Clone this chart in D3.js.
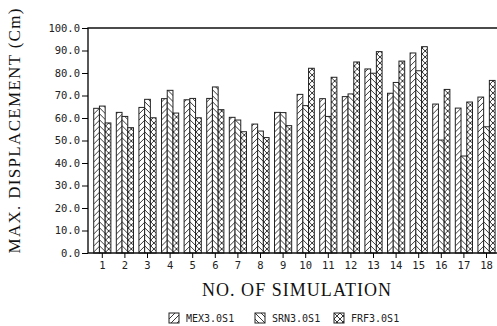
<!DOCTYPE html>
<html>
<head>
<meta charset="utf-8">
<script src="https://cdn.jsdelivr.net/npm/d3@7"></script>
<style>
  body { margin: 0; background: #fff; }
  svg { display: block; }
</style>
</head>
<body>
<svg id="chart" width="497" height="326"></svg>
<script>
// simulation numbers on the x axis
const simulations = ["1","2","3","4","5","6","7","8","9","10","11","12","13","14","15","16","17","18"]
const seriesNames = ["MEX3.0S1", "SRN3.0S1", "FRF3.0S1"]

// max displacement (cm)
const mex = [64.3, 62.5, 64.7, 68.6, 68.1, 68.7, 60.3, 57.3, 62.5, 70.5, 68.6, 69.5, 81.8, 71.0, 88.9, 66.2, 64.4, 69.3]
const srn = [65.3, 60.7, 68.3, 72.3, 68.7, 73.8, 59.1, 54.2, 62.4, 65.5, 60.7, 70.7, 79.9, 75.8, 81.0, 50.2, 43.1, 56.1]
const frf = [57.8, 55.7, 60.1, 62.2, 60.1, 63.7, 53.9, 51.3, 56.6, 82.1, 78.1, 84.9, 89.5, 85.3, 91.7, 72.7, 67.1, 76.7]

const yTicks = [0, 10, 20, 30, 40, 50, 60, 70, 80, 90, 100]

const plotLeft = 88, plotTop = 28, plotBottom = 253, plotRight = 497

const svg = d3.select("#chart")

// hatch patterns, one per series
const defs = svg.append("defs")
function hatch(id, paths) {
  const p = defs.append("pattern")
    .attr("id", id)
    .attr("patternUnits", "userSpaceOnUse")
    .attr("width", 6).attr("height", 6)
  p.append("rect").attr("width", 6).attr("height", 6).attr("fill", "#fff")
  paths.forEach(d => p.append("path").attr("d", d)
    .attr("stroke", "#222").attr("stroke-width", 0.9).attr("fill", "none"))
}
hatch("p0", ["M-1,7 L7,-1", "M-1,1 L1,-1", "M5,7 L7,5"])
hatch("p1", ["M-1,-1 L7,7", "M5,-1 L7,1", "M-1,5 L1,7"])
hatch("p2", ["M0,0 L6,6", "M6,0 L0,6"])
const fills = ["url(#p0)", "url(#p1)", "url(#p2)"]

const series = [mex, srn, frf]
const data = simulations.map((s, i) => ({ sim: s, values: series.map(v => v[i]) }))

const x = d3.scaleBand()
  .domain(simulations)
  .range([plotLeft + 3, plotLeft + 3 + 18 * 22.6])
  .paddingInner(0.24)
  .paddingOuter(0.12)

const xSub = d3.scaleBand()
  .domain(seriesNames)
  .range([0, x.bandwidth()])

const y = d3.scaleLinear()
  .domain([0, 100])
  .range([plotBottom, plotTop])

// bars
const groups = svg.append("g").selectAll("g")
  .data(data)
  .enter()
  .append("g")
  .attr("transform", d => "translate(" + x(d.sim) + ",0)")

groups.selectAll("rect")
  .data(d => d.values.map((v, k) => ({ name: seriesNames[k], value: v, k: k })))
  .enter()
  .append("rect")
  .attr("x", d => xSub(d.name))
  .attr("y", d => y(d.value))
  .attr("width", xSub.bandwidth())
  .attr("height", d => y(0) - y(d.value))
  .attr("fill", d => fills[d.k])
  .attr("stroke", "#222")
  .attr("stroke-width", 1)

// frame
svg.append("path")
  .attr("d", "M" + plotRight + "," + plotTop + " H" + plotLeft + " V" + plotBottom + " H" + plotRight)
  .attr("fill", "none")
  .attr("stroke", "#111")
  .attr("stroke-width", 1.4)

// y axis
const yAxis = svg.append("g")
  .attr("transform", "translate(" + plotLeft + ",0)")
  .call(d3.axisLeft(y).tickValues(yTicks).tickFormat(d3.format(".1f")).tickSize(6).tickPadding(2))
yAxis.select(".domain").remove()
yAxis.selectAll("text")
  .attr("font-family", "DejaVu Sans Mono")
  .attr("font-size", 10.5)
  .attr("fill", "#222")

// x axis
const xAxis = svg.append("g")
  .attr("transform", "translate(0," + plotBottom + ")")
  .call(d3.axisBottom(x).tickSize(5).tickPadding(4))
xAxis.select(".domain").remove()
xAxis.selectAll("text")
  .attr("font-family", "DejaVu Sans Mono")
  .attr("font-size", 10.5)
  .attr("fill", "#222")

// titles
svg.append("text")
  .attr("x", (plotLeft + plotRight) / 2 + 4)
  .attr("y", 296)
  .attr("text-anchor", "middle")
  .attr("font-family", "Liberation Serif")
  .attr("font-size", 18)
  .attr("textLength", 189)
  .attr("fill", "#111")
  .text("NO. OF SIMULATION")

svg.append("text")
  .attr("transform", "translate(20,131) rotate(-90)")
  .attr("text-anchor", "middle")
  .attr("font-family", "Liberation Serif")
  .attr("font-size", 17)
  .attr("textLength", 245)
  .attr("fill", "#111")
  .text("MAX. DISPLACEMENT (Cm)")

// legend
const legendX = [169, 255, 334]
const legend = svg.append("g").selectAll("g")
  .data(seriesNames)
  .enter()
  .append("g")
  .attr("transform", (d, i) => "translate(" + legendX[i] + ",313)")
legend.append("rect")
  .attr("width", 10).attr("height", 10)
  .attr("fill", (d, i) => fills[i])
  .attr("stroke", "#222")
legend.append("text")
  .attr("x", 17).attr("y", 9)
  .attr("font-family", "DejaVu Sans Mono")
  .attr("font-size", 10)
  .attr("fill", "#222")
  .text(d => d)
</script>
</body>
</html>
